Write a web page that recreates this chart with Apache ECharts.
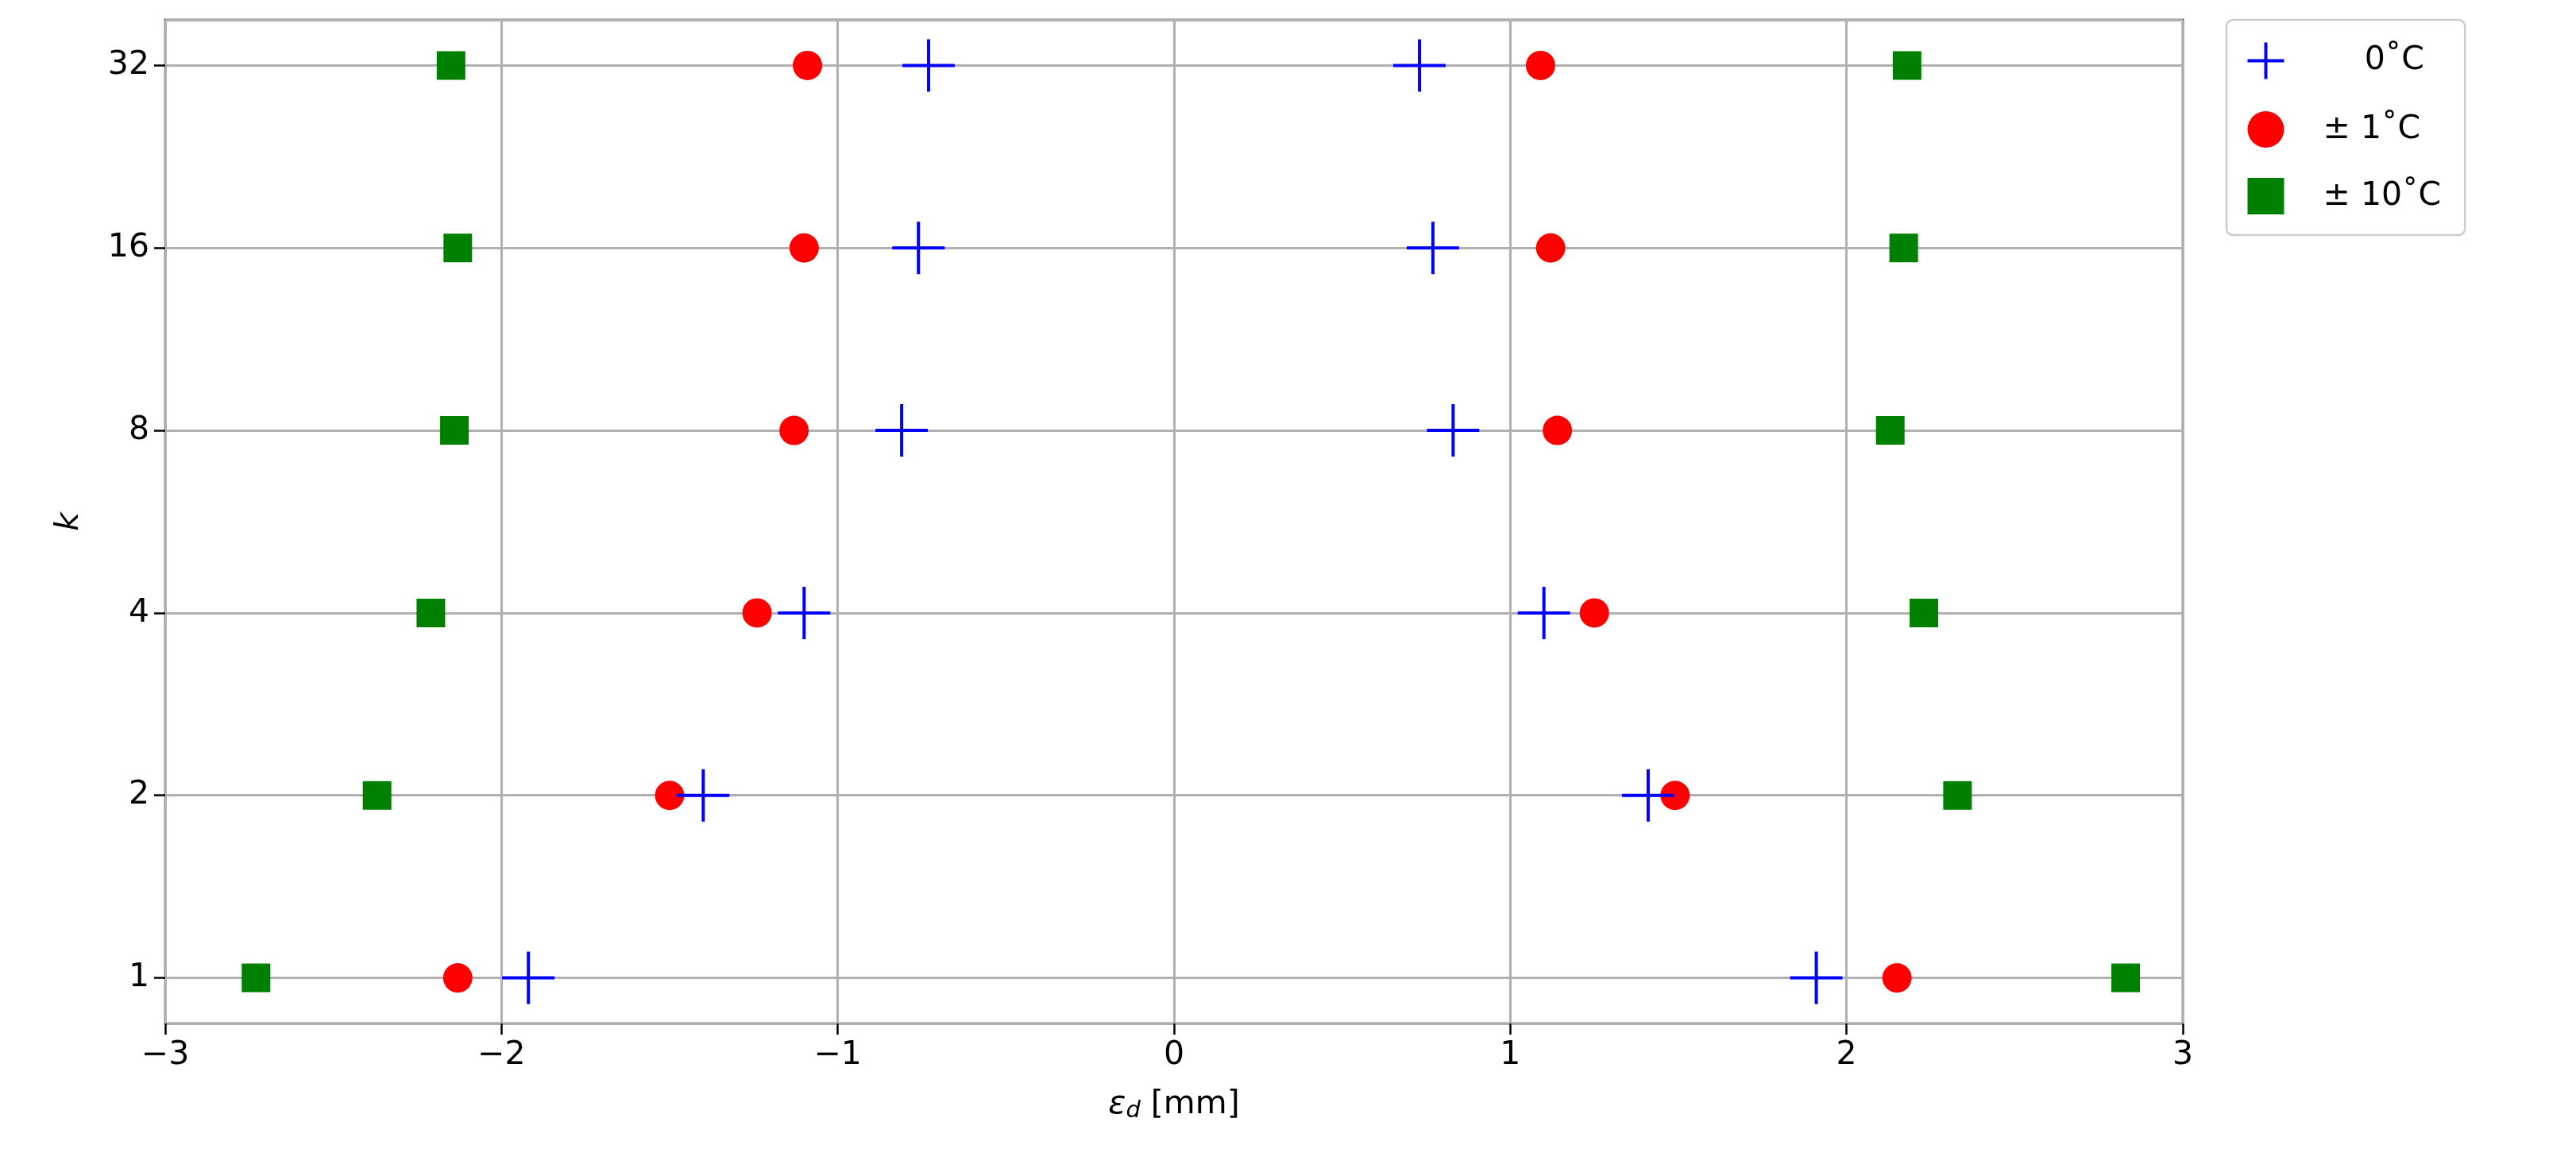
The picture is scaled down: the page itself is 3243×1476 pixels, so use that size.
<!DOCTYPE html>
<html>
<head>
<meta charset="utf-8">
<script src="https://cdn.jsdelivr.net/npm/echarts@6/dist/echarts.min.js"></script>
<style>html,body{margin:0;background:#fff}#chart{width:3243px;height:1476px}</style>
</head>
<body>
<div id="chart"></div>
<script>
// k 值（对数刻度，以 2 为底）
var kLevels = [1, 2, 4, 8, 16, 32];
// 0°C
var zeroNeg = [-1.92, -1.40, -1.10, -0.81, -0.76, -0.73];
var zeroPos = [1.91, 1.41, 1.10, 0.83, 0.77, 0.73];
// ±1°C
var oneNeg = [-2.13, -1.50, -1.24, -1.13, -1.10, -1.09];
var onePos = [2.15, 1.49, 1.25, 1.14, 1.12, 1.09];
// ±10°C
var tenNeg = [-2.73, -2.37, -2.21, -2.14, -2.13, -2.15];
var tenPos = [2.83, 2.33, 2.23, 2.13, 2.17, 2.18];
var xTicks = [-3, -2, -1, 0, 1, 2, 3];

function pairs(neg, pos) {
    var d = [];
    kLevels.forEach(function (k, i) {
        var y = Math.log2(k);
        d.push([neg[i], y]);
        d.push([pos[i], y]);
    });
    return d;
}

var plusPath = 'path://M0,5L10,5M5,0L5,10';
var font = 'DejaVu Sans';
var myChart = echarts.init(document.getElementById('chart'));
var option = {
    animation: false,
    backgroundColor: '#fff',
    textStyle: { fontFamily: font },
    grid: { left: 208, right: 495, top: 25, bottom: 187, show: true, borderColor: '#000', borderWidth: 2.5 },
    xAxis: {
        type: 'value', min: xTicks[0], max: xTicks[xTicks.length - 1], interval: 1,
        name: '{i|ε}{s|d} [mm]', nameLocation: 'middle', nameGap: 80,
        nameTextStyle: { fontSize: 41, color: '#000', rich: { i: { fontSize: 41, fontStyle: 'italic', fontFamily: font }, s: { fontSize: 29, fontStyle: 'italic', verticalAlign: 'bottom', padding: [16, 0, 0, 0], fontFamily: font } } },
        axisLine: { show: false, onZero: false },
        axisTick: { show: true, length: 14, lineStyle: { color: '#000', width: 2.5 } },
        axisLabel: { fontSize: 41, color: '#000', margin: 20, formatter: function (v) { return v < 0 ? '\u2212' + (-v) : '' + v; } },
        splitLine: { show: true, lineStyle: { color: '#b0b0b0', width: 3 } }
    },
    yAxis: {
        type: 'value', min: -0.25, max: 5.25, splitNumber: 5,
        name: 'k', nameLocation: 'middle', nameGap: 100,
        nameTextStyle: { fontSize: 41, fontStyle: 'italic', color: '#000' },
        axisLine: { show: false, onZero: false },
        axisTick: { show: true, length: 14, lineStyle: { color: '#000', width: 2.5 } },
        axisLabel: { fontSize: 41, color: '#000', margin: 20, showMinLabel: false, showMaxLabel: false,
            formatter: function (v) { return Number.isInteger(v) ? '' + Math.pow(2, v) : ''; } },
        splitLine: { show: true, lineStyle: { color: '#b0b0b0', width: 3 } }
    },
    legend: {
        orient: 'vertical', left: 2803, top: 25, padding: [26, 30, 26, 24],
        borderColor: '#ccc', borderWidth: 2.5, borderRadius: 8, itemGap: 38, itemWidth: 46, itemHeight: 46,
        textStyle: { fontSize: 41, color: '#000', padding: [0, 0, 0, 44] },
        data: [
            { name: '    0\u02DAC', icon: plusPath, itemStyle: { color: 'none', borderColor: '#0000ff', borderWidth: 4 } },
            { name: '\u00B1 1\u02DAC', icon: 'circle', itemStyle: { color: '#ff0000', opacity: 1 } },
            { name: '\u00B1 10\u02DAC', icon: 'rect', itemStyle: { color: '#008000', opacity: 1 } }
        ]
    },
    series: [
        { name: '    0\u02DAC', type: 'scatter', symbol: plusPath, symbolSize: 66,
          itemStyle: { color: 'none', borderColor: '#0000ff', borderWidth: 4, opacity: 1 }, data: pairs(zeroNeg, zeroPos), z: 3 },
        { name: '\u00B1 1\u02DAC', type: 'scatter', symbol: 'circle', symbolSize: 37,
          itemStyle: { color: '#ff0000', opacity: 1 }, data: pairs(oneNeg, onePos), z: 2 },
        { name: '\u00B1 10\u02DAC', type: 'scatter', symbol: 'rect', symbolSize: 36,
          itemStyle: { color: '#008000', opacity: 1 }, data: pairs(tenNeg, tenPos), z: 2 }
    ]
};
myChart.setOption(option, true);
</script>
</body>
</html>
